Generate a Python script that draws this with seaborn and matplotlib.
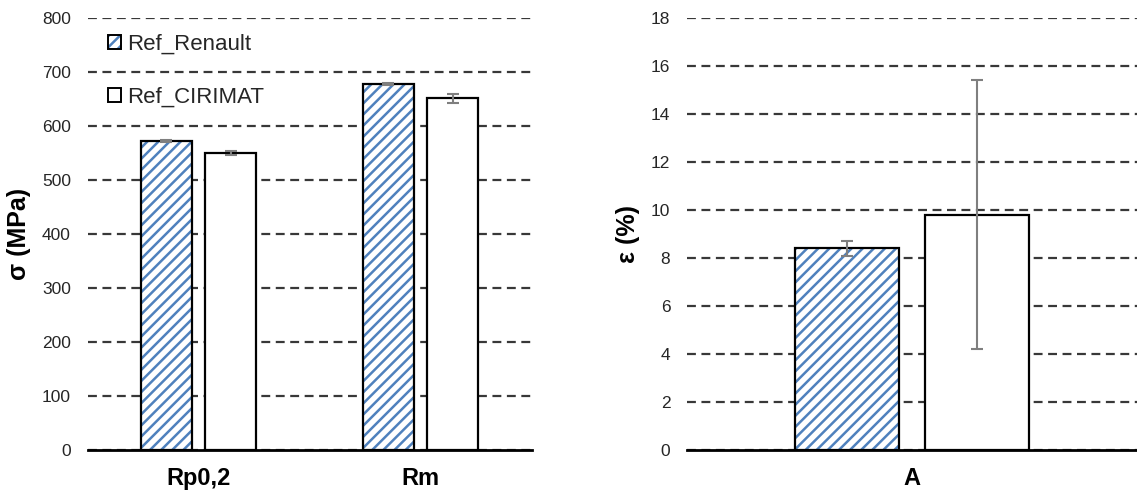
import matplotlib
matplotlib.use('Agg')
import matplotlib.pyplot as plt
import pandas as pd
import seaborn as sns
from matplotlib.patches import Patch

# data
series = ['Ref_Renault', 'Ref_CIRIMAT']
stress_cats = ['Rp0,2', 'Rm']
stress_renault = [572, 678]
stress_renault_err = [2, 2]
stress_cirimat = [550, 651]
stress_cirimat_err = [4, 9]

strain_cats = ['A']
strain_renault = [8.4]
strain_renault_err = [0.31]
strain_cirimat = [9.8]
strain_cirimat_err = [5.6]

blue = '#4f81bd'
err_grey = '#7f7f7f'

sns.set_style('white')
plt.rcParams['font.family'] = ['Liberation Sans', 'DejaVu Sans']
plt.rcParams['hatch.linewidth'] = 1.8


def make_df(cats, v1, v2):
    return pd.DataFrame({
        'cat': cats * 2,
        'series': [series[0]] * len(cats) + [series[1]] * len(cats),
        'value': list(v1) + list(v2),
    })


def draw_panel(ax, df, errs, ymax, ystep, ylabel):
    ncat = len(df) // 2
    # hatched fills (blue hatch on white)
    sns.barplot(data=df, x='cat', y='value', hue='series', hue_order=series,
                palette=['white', 'white'], edgecolor=blue, linewidth=0,
                width=0.58, gap=0.2, errorbar=None, legend=False, ax=ax)
    for p in ax.patches[:ncat]:
        p.set_hatch('///')
    # black outlines on top
    sns.barplot(data=df, x='cat', y='value', hue='series', hue_order=series,
                palette=['black', 'black'], fill=False, linewidth=1.6,
                width=0.58, gap=0.2, errorbar=None, legend=False, ax=ax)
    outline = ax.patches[len(df):]
    for p, e in zip(outline, errs):
        xc = p.get_x() + p.get_width() / 2
        ax.errorbar(xc, p.get_height(), yerr=e, color=err_grey, lw=1.5,
                    capsize=4, capthick=1.5, zorder=5)

    ax.set_xlim(-0.5, ncat - 0.5)
    ax.set_ylim(0, ymax)
    ax.set_yticks(range(0, ymax + 1, ystep))
    ax.set_axisbelow(True)
    ax.yaxis.grid(True, linestyle=(0, (4, 2.5)), color='#383838', lw=1.6)
    ax.xaxis.grid(False)
    for s in ['left', 'right', 'top']:
        ax.spines[s].set_visible(False)
    ax.spines['bottom'].set_color('black')
    ax.spines['bottom'].set_linewidth(2)
    ax.tick_params(axis='y', length=0, pad=12, labelsize=12.5, labelcolor='#262626')
    ax.tick_params(axis='x', length=0, pad=12, labelsize=17, labelcolor='black')
    for t in ax.get_xticklabels():
        t.set_fontweight('bold')
    ax.set_xlabel('')
    ax.set_ylabel(ylabel, fontsize=18, fontweight='bold', labelpad=8, color='black')


fig = plt.figure(figsize=(11.37, 4.94), dpi=100)
ax1 = fig.add_axes([0.0770, 0.0891, 0.3905, 0.8745])
ax2 = fig.add_axes([0.6042, 0.0891, 0.3958, 0.8745])

df_stress = make_df(stress_cats, stress_renault, stress_cirimat)
draw_panel(ax1, df_stress, stress_renault_err + stress_cirimat_err,
           800, 100, 'σ (MPa)')

df_strain = make_df(strain_cats, strain_renault, strain_cirimat)
draw_panel(ax2, df_strain, strain_renault_err + strain_cirimat_err,
           18, 2, 'ε (%)')

hatch_handle = (Patch(facecolor='white', edgecolor=blue, hatch='///', lw=0),
                Patch(fill=False, edgecolor='black', lw=1.4))
plain_handle = Patch(facecolor='white', edgecolor='black', lw=1.4)
ax1.legend(handles=[hatch_handle, plain_handle], labels=series,
           loc='upper left', bbox_to_anchor=(0.0, 1.01),
           frameon=False, fontsize=16, labelspacing=1.45,
           handlelength=0.6, handleheight=0.6, handletextpad=0.3)

fig.savefig('out.png', dpi=100)
